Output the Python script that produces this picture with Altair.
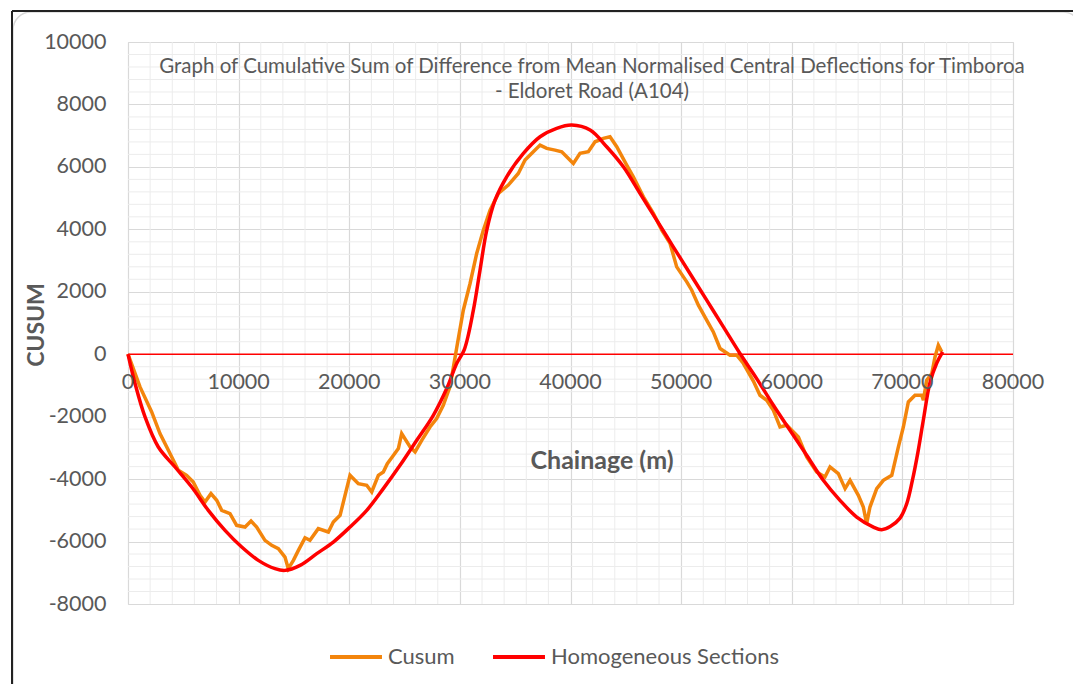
import altair as alt
import pandas as pd

# ---------------- data ----------------
cusum_x = [0, 1085, 2140, 2890, 3650, 4550, 5300, 5900, 6510, 6960, 7500, 8020, 8470, 9220, 9820,
           10580, 11120, 11630, 12380, 12990, 13590, 14190, 14490, 14950, 15400, 16000, 16450,
           17200, 18110, 18560, 19170, 20070, 20820, 21580, 22030, 22630, 23080, 23440, 24000,
           24440, 24740, 25500, 25950, 26550, 27300, 27900, 28500, 29100, 29420, 29710, 30310,
           30920, 31520, 32120, 32730, 33480, 34380, 35280, 35890, 36640, 37250, 37850, 38600,
           39210, 39810, 40260, 40860, 41610, 42220, 42970, 43570, 44180, 45080, 45680, 46590,
           47490, 48250, 49000, 49600, 50510, 50960, 51560, 52310, 52910, 53520, 54420, 55030,
           55630, 56530, 57130, 57740, 58340, 58940, 59550, 60600, 61350, 62250, 63000, 63460,
           64210, 64820, 65270, 66020, 66470, 66770, 67070, 67680, 68280, 69040, 69640, 70090,
           70540, 71140, 71750, 71900, 72200, 72660, 72950, 73250, 73560]
cusum_y = [0, -1047, -1850, -2540, -3077, -3718, -3878, -4090, -4519, -4733, -4465, -4680, -5000,
           -5107, -5480, -5535, -5343, -5535, -5961, -6121, -6228, -6496, -6868, -6602, -6282,
           -5880, -5961, -5588, -5695, -5375, -5160, -3878, -4145, -4199, -4412, -3878, -3771,
           -3504, -3237, -3023, -2540, -2970, -3131, -2756, -2330, -2061, -1635, -1047, -407,
           200, 1410, 2266, 3227, 3974, 4615, 5150, 5416, 5790, 6218, 6484, 6698, 6592, 6538,
           6484, 6272, 6112, 6432, 6484, 6805, 6912, 6965, 6645, 6057, 5683, 5041, 4509, 3974,
           3548, 2798, 2317, 2051, 1571, 1090, 715, 183, -32, -32, -298, -860, -1314, -1474,
           -1795, -2330, -2276, -2651, -3291, -3772, -3932, -3612, -3825, -4304, -4038, -4519,
           -4894, -5426, -4894, -4304, -4038, -3878, -2970, -2330, -1529, -1314, -1314, -1474,
           -833, -619, -86, 288, 74]

homog_x = [0, 630, 1540, 2740, 4250, 5760, 7260, 8770, 10280, 11780, 13290, 14190, 15550, 17060,
           18560, 20070, 21580, 23080, 24590, 26100, 27600, 28810, 29710, 30400, 31220, 31820,
           32430, 33180, 34230, 35740, 37250, 38750, 40110, 41770, 43270, 44780, 46280, 47790,
           49290, 50800, 52310, 53820, 55320, 56830, 58340, 59840, 61350, 62850, 64360, 65870,
           67380, 68130, 68900, 69790, 70400, 70900, 71400, 71900, 72500, 73110, 73650]
homog_y = [0, -930, -2009, -2971, -3612, -4253, -5000, -5641, -6176, -6602, -6868, -6923, -6763,
           -6388, -6016, -5535, -5000, -4304, -3558, -2756, -1955, -1099, -298, 150, 1410, 2692,
           3974, 4936, 5683, 6430, 6965, 7234, 7340, 7180, 6645, 6003, 5150, 4295, 3440, 2587,
           1731, 875, 22, -780, -1635, -2436, -3237, -4038, -4680, -5214, -5535, -5620, -5520,
           -5250, -4780, -4050, -3150, -2100, -900, -280, 74]

series_names = ["Cusum", "Homogeneous Sections"]
series_colors = ["#F3850C", "#FF0000"]

x_ticks = [0, 10000, 20000, 30000, 40000, 50000, 60000, 70000, 80000]
y_ticks = [-8000, -6000, -4000, -2000, 0, 2000, 4000, 6000, 8000, 10000]
x_minor = [v for v in range(0, 80001, 2000) if v % 10000 != 0]
y_minor = [v for v in range(-8000, 10001, 400) if v % 2000 != 0]

title_lines = ["Graph of Cumulative Sum of Difference from Mean Normalised Central Deflections for Timboroa",
               "- Eldoret Road (A104)"]

# ---------------- frames ----------------
df_c = pd.DataFrame({"chainage": cusum_x, "value": cusum_y, "series": series_names[0],
                     "order": range(len(cusum_x))})
df_h = pd.DataFrame({"chainage": homog_x, "value": homog_y, "series": series_names[1],
                     "order": range(len(homog_x))})

FONT = "Lato"
GRAY = "#595959"

xs = alt.Scale(domain=[0, 80000], nice=False, zero=False)
ys = alt.Scale(domain=[-8000, 10000], nice=False, zero=False)
cs = alt.Scale(domain=series_names, range=series_colors)

one = alt.Data(values=[{}])

border = alt.Chart(one).mark_rect(fillOpacity=0, stroke="#d9d9d9", strokeWidth=1.5, cornerRadius=18).encode(
    x=alt.value(-115), x2=alt.value(953), y=alt.value(-30), y2=alt.value(660))
frame_top = alt.Chart(one).mark_rule(color="#222222", strokeWidth=2).encode(
    x=alt.value(-116), x2=alt.value(960), y=alt.value(-31))
frame_left = alt.Chart(one).mark_rule(color="#222222", strokeWidth=2).encode(
    x=alt.value(-116), y=alt.value(-31), y2=alt.value(660))

minor_x = alt.Chart(pd.DataFrame({"v": x_minor})).mark_rule(color="#ececec", strokeWidth=1).encode(
    x=alt.X("v:Q", scale=xs))
minor_y = alt.Chart(pd.DataFrame({"v": y_minor})).mark_rule(color="#ececec", strokeWidth=1).encode(
    y=alt.Y("v:Q", scale=ys))

zero_line = alt.Chart(one).mark_rule(color="#FF0000", strokeWidth=1.5).encode(
    x=alt.datum(0, scale=xs), x2=alt.datum(80000), y=alt.datum(0, scale=ys))

legend = alt.Legend(orient="none", legendX=200, legendY=587, direction="horizontal",
                    title=None, symbolType="stroke", symbolStrokeWidth=4,
                    symbolSize=2700, labelFont=FONT, labelFontSize=22, labelLimit=400,
                    labelColor=GRAY, columnPadding=30, labelOffset=4)

x_enc = alt.X("chainage:Q", scale=xs,
              axis=alt.Axis(values=x_ticks, labels=False, ticks=False, domain=False, title="",
                            grid=True, gridColor="#d9d9d9", gridWidth=1.2))
y_enc = alt.Y("value:Q", scale=ys,
              axis=alt.Axis(values=y_ticks, ticks=False, domain=False, title="",
                            labelExpr="datum.value + ''",
                            grid=True, gridColor="#d9d9d9", gridWidth=1.2,
                            labelFont=FONT, labelFontSize=21.5, labelColor=GRAY, labelPadding=22))

cusum_line = alt.Chart(df_c).mark_line(strokeWidth=3.5, interpolate="linear").encode(
    x=x_enc, y=y_enc, color=alt.Color("series:N", scale=cs, legend=legend), order="order:Q")
homog_line = alt.Chart(df_h).mark_line(strokeWidth=3.5, interpolate="catmull-rom").encode(
    x=x_enc, y=y_enc, color=alt.Color("series:N", scale=cs, legend=legend), order="order:Q")

xlabels = alt.Chart(pd.DataFrame({"v": x_ticks})).mark_text(
    font=FONT, fontSize=21.5, color=GRAY, baseline="middle", align="center", dy=29).encode(
    x=alt.X("v:Q", scale=xs), y=alt.datum(0, scale=ys), text=alt.Text("v:Q", format="d"))

t1 = alt.Chart(one).mark_text(font=FONT, fontSize=20.5, color=GRAY, align="center", baseline="middle").encode(
    x=alt.value(464), y=alt.value(25), text=alt.value(title_lines[0]))
t2 = alt.Chart(one).mark_text(font=FONT, fontSize=20.5, color=GRAY, align="center", baseline="middle").encode(
    x=alt.value(464), y=alt.value(50), text=alt.value(title_lines[1]))

xtitle = alt.Chart(one).mark_text(font=FONT, fontSize=25, fontWeight="bold", color=GRAY,
                                  align="center", baseline="middle").encode(
    x=alt.value(474), y=alt.value(419), text=alt.value("Chainage (m)"))
ytitle = alt.Chart(one).mark_text(font=FONT, fontSize=23, fontWeight="bold", color=GRAY,
                                  align="center", baseline="middle", angle=270).encode(
    x=alt.value(-91), y=alt.value(283), text=alt.value("CUSUM"))

chart = alt.layer(
    border, frame_top, frame_left, minor_x, minor_y, zero_line, cusum_line, homog_line,
    xlabels, t1, t2, xtitle, ytitle
).properties(
    width=885, height=562,
    autosize=alt.AutoSizeParams(type="none"),
    padding={"left": 120, "top": 34, "right": 60, "bottom": 80},
).configure_view(stroke=None).configure(background="white")

chart.save("out.html", embed_options={"renderer": "svg", "actions": False})
